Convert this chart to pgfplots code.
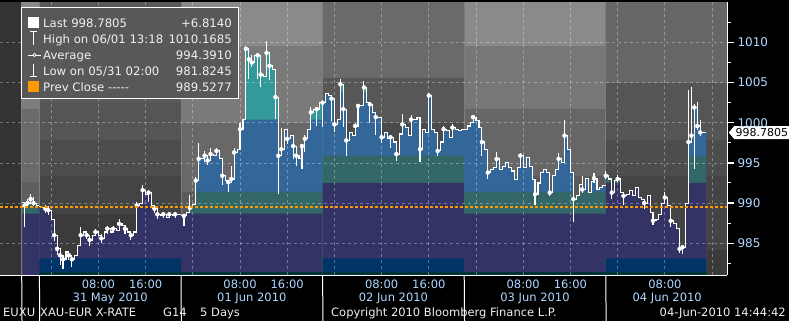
\documentclass[border=0pt]{standalone}
\usepackage{pgfplots}
\pgfplotsset{compat=1.18}
\usepackage{pgfplotstable}
\usepackage{fontspec}
\setmainfont{DejaVu Sans}
\usetikzlibrary{shapes.symbols}

\definecolor{navyb}{RGB}{0,51,102}
\definecolor{purp}{RGB}{51,51,102}
\definecolor{dkteal}{RGB}{51,102,102}
\definecolor{blueb}{RGB}{51,102,153}
\definecolor{tealb}{RGB}{51,153,153}
\definecolor{stripb}{RGB}{0,51,51}
\definecolor{orangeP}{RGB}{255,153,0}
\definecolor{tickblue}{RGB}{175,215,255}
\definecolor{legw}{RGB}{240,240,240}
\definecolor{legbg}{RGB}{88,88,88}
\definecolor{sepcol}{RGB}{125,125,125}

\newcommand{\bg}[4]{\addplot[fill={rgb,255:red,#4;green,#4;blue,#4}, draw=none, forget plot] coordinates {(#1,#3) (#2,#3) (#2,981) (#1,981)} -- cycle;}
\newcommand{\band}[3]{\addplot[const plot, fill=#3, draw=none, forget plot] table[x=h, y expr={min(\thisrow{p},#2)}] {#1} \closedcycle;}
\newcommand{\fs}[1]{\fontsize{#1}{#1}\selectfont}
\newcommand{\hl}[2]{\node[anchor=base, inner sep=0, text=tickblue, font=\fs{11.5}, yshift=-13pt] at (axis cs:#1,981) {#2};}
\newcommand{\dl}[2]{\node[anchor=base, inner sep=0, text=tickblue, font=\fs{11.5}, yshift=-26pt] at (axis cs:#1,981) {#2};}

\pgfplotstableread{
h p
-4.9 990.1
-4.5 989.7
-4.0 990.0
-3.5 990.5
-3.0 990.0
-2.5 989.7
-2.0 989.7
}\dayA
\pgfplotstableread{
h p
-2.0 989.6
-1.5 989.4
-1.0 989.3
-0.5 989.1
0.0 988.0
0.5 986.0
1.0 984.3
1.5 983.5
2.0 983.0
2.5 983.9
3.0 983.5
3.5 983.0
4.0 983.5
4.5 984.7
5.0 986.0
5.5 986.4
6.0 986.0
6.5 985.4
7.0 986.0
7.5 986.4
8.0 986.0
8.5 985.6
9.0 986.4
9.5 986.8
10.0 986.4
10.5 986.8
11.0 986.6
11.5 987.4
12.0 987.2
12.5 986.8
13.0 986.4
13.5 986.0
14.0 986.4
14.5 989.7
15.0 990.0
15.5 991.6
16.0 991.1
16.5 991.3
17.0 989.7
17.5 989.3
18.0 988.6
18.5 988.4
19.0 988.6
19.5 988.2
20.0 988.6
20.5 988.4
21.0 988.6
21.5 988.6
22.0 988.6
}\dayB
\pgfplotstableread{
h p
22.0 988.4
22.5 988.4
23.0 988.8
23.5 989.4
24.0 989.8
24.5 992.8
25.0 995.5
25.5 995.5
26.0 995.9
26.5 995.3
27.0 996.1
27.5 995.9
28.0 996.5
28.5 995.5
29.0 993.4
29.5 992.8
30.0 992.6
30.5 993.0
31.0 996.3
31.5 996.7
32.0 999.2
32.5 1000.4
33.0 1009.2
33.5 1007.9
34.0 1007.5
34.5 1008.4
35.0 1008.4
35.5 1006.0
36.0 1005.8
36.5 1008.7
37.0 1007.1
37.5 1006.6
38.0 1003.2
38.5 995.9
39.0 996.7
39.5 999.2
40.0 998.0
40.5 998.4
41.0 997.1
41.5 995.9
42.0 995.5
42.5 997.1
43.0 998.0
43.5 999.2
44.0 1001.3
44.5 1001.7
45.0 1001.7
45.5 1002.5
46.0 1002.5
}\dayC
\pgfplotstableread{
h p
46.0 1002.5
46.5 1003.6
47.0 1003.4
47.5 1003.0
48.0 999.8
48.5 1000.4
49.0 1004.8
49.5 1001.7
50.0 997.8
50.5 998.8
51.0 998.4
51.5 999.6
52.0 1002.1
52.5 1002.1
53.0 1004.4
53.5 1002.5
54.0 1002.3
54.5 1001.3
55.0 1000.7
55.5 1000.7
56.0 998.2
56.5 998.8
57.0 998.0
57.5 998.2
58.0 997.6
58.5 996.1
59.0 998.6
59.5 999.8
60.0 999.4
60.5 998.4
61.0 1000.4
61.5 1000.4
62.0 1000.7
62.5 996.7
63.0 999.2
63.5 998.8
64.0 1003.4
64.5 999.2
65.0 998.8
65.5 996.5
66.0 997.6
66.5 999.2
67.0 999.0
67.5 998.2
68.0 999.4
68.5 999.2
69.0 999.0
69.5 999.2
70.0 999.2
}\dayD
\pgfplotstableread{
h p
70.0 999.2
70.5 999.6
71.0 1000.0
71.5 1000.7
72.0 1000.3
72.5 999.4
73.0 997.6
73.5 996.7
74.0 993.8
74.5 994.2
75.0 994.4
75.5 995.5
76.0 994.2
76.5 994.6
77.0 995.0
77.5 994.4
78.0 994.0
78.5 992.9
79.0 994.4
79.5 995.9
80.0 994.4
80.5 995.7
81.0 994.6
81.5 992.9
82.0 991.1
82.5 992.5
83.0 993.8
83.5 994.2
84.0 993.8
84.5 991.3
85.0 993.4
85.5 994.2
86.0 995.5
86.5 995.0
87.0 998.4
87.5 996.7
88.0 993.8
88.5 990.5
89.0 990.9
89.5 992.3
90.0 991.7
90.5 993.1
91.0 991.3
91.5 992.7
92.0 993.1
92.5 991.7
93.0 991.9
93.5 992.2
94.0 992.2
}\dayE
\pgfplotstableread{
h p
94.0 993.4
94.5 993.0
95.0 991.3
95.5 992.8
96.0 993.0
96.5 991.3
97.0 990.9
97.5 991.1
98.0 991.6
98.5 990.9
99.0 991.9
99.5 990.7
100.0 990.5
100.5 990.0
101.0 990.9
101.5 988.8
102.0 987.8
102.5 988.0
103.0 988.6
103.5 990.0
104.0 990.7
104.5 989.7
105.0 987.8
105.5 987.4
106.0 986.8
106.5 984.3
107.0 984.5
107.5 990.0
108.0 997.6
108.5 998.4
109.0 1001.9
109.5 999.6
110.0 998.8
110.5 998.8
111.0 998.8
}\dayF
\pgfplotstableread{
h y ep em
-4.5 989.7 0.3 2.7
-4.0 990.0 0.5 0.5
-3.5 990.5 0.6 0.3
-3.0 990.0 0.8 0.4
-1.0 989.3 0.4 0.5
-0.5 989.1 0.5 0.6
0.5 986.0 0.6 0.7
1.0 984.3 0.5 0.8
1.5 983.5 0.3 1.2
2.0 983.0 0.3 1.18
3.0 983.5 0.5 0.6
3.5 983.0 0.4 1.0
5.0 986.0 1.0 0.5
6.0 986.0 0.5 0.5
6.5 985.4 0.4 0.7
7.5 986.4 0.4 0.5
8.5 985.6 0.5 0.6
9.5 986.8 0.4 0.6
10.5 986.8 0.4 0.5
11.5 987.4 0.6 0.5
12.5 986.8 0.4 0.6
13.5 986.0 0.3 0.6
14.5 989.7 0.4 0.5
15.5 991.6 0.6 0.5
16.5 991.3 0.3 1.2
17.5 989.3 0.4 0.5
18.0 988.6 0.3 0.6
19.0 988.6 0.3 0.5
20.0 988.6 0.3 0.5
21.0 988.6 0.3 0.5
22.5 988.4 0.3 1.2
23.5 989.4 1.6 0.3
24.5 992.8 0.4 1.8
25.0 995.5 2.0 0.4
26.0 995.9 0.6 0.8
26.5 995.3 0.5 0.6
27.0 996.1 0.8 0.5
28.0 996.5 0.3 0.6
29.0 993.4 0.3 1.2
30.0 992.6 0.3 1.2
30.5 993.0 1.6 0.3
31.0 996.3 0.6 0.4
32.0 999.2 0.8 0.6
33.0 1009.2 0.4 0.0
33.5 1007.9 0.3 2.4
34.0 1007.5 1.0 0.6
35.0 1008.4 0.3 3.0
35.5 1006.0 0.3 1.6
36.5 1008.7 1.47 0.4
37.0 1007.1 0.4 1.8
38.0 1003.2 0.4 2.7
38.5 995.9 0.3 4.8
39.0 996.7 2.6 0.4
40.0 998.0 0.9 0.6
41.0 997.1 0.3 1.6
41.5 995.9 0.4 1.3
42.5 997.1 0.3 2.9
43.0 998.0 0.5 1.6
44.0 1001.3 0.7 0.5
45.0 1001.7 0.3 2.1
46.0 1002.5 0.3 3.0
47.5 1003.0 0.3 2.8
48.0 999.8 0.4 1.0
49.0 1004.8 0.7 0.4
49.5 1001.7 0.3 2.2
50.0 997.8 0.4 1.9
51.5 999.6 0.4 1.3
52.0 1002.1 0.3 2.4
53.0 1004.4 0.8 0.4
54.0 1002.3 0.3 2.3
55.0 1000.7 0.3 2.2
56.0 998.2 0.4 0.7
57.5 998.2 0.3 1.3
58.5 996.1 0.5 0.9
59.5 999.8 1.3 0.4
61.0 1000.4 0.6 0.4
62.5 996.7 0.3 1.6
64.0 1003.4 0.3 4.0
65.5 996.5 0.5 0.6
66.5 999.2 0.4 0.5
68.0 999.4 0.4 0.6
71.5 1000.7 0.3 0.7
73.0 997.6 0.4 1.7
74.0 993.8 0.4 0.8
75.5 995.5 0.8 0.4
79.5 995.9 0.3 1.0
82.0 991.1 1.9 1.4
84.5 991.3 0.4 0.4
86.0 995.5 0.7 0.6
87.0 998.4 2.0 0.5
88.5 990.5 0.4 2.9
90.0 991.7 1.7 0.4
92.0 993.1 0.7 0.6
94.0 993.4 0.6 0.4
95.0 991.3 0.3 0.8
96.0 993.0 0.5 0.4
97.0 990.9 0.3 1.2
100.5 990.0 0.4 0.8
102.0 987.8 0.3 0.5
104.0 990.7 0.7 0.5
105.0 987.8 0.4 0.8
106.5 984.3 0.3 0.5
107.0 984.5 0.3 0.9
108.0 997.6 6.5 0.3
108.5 998.4 6.0 0.5
109.0 1001.9 0.4 7.7
109.5 999.6 3.0 0.5
110.0 998.8 1.6 0.4
}\wicks

\begin{document}
\begin{tikzpicture}[x=1pt,y=1pt]
\fill[black] (0,0) rectangle (789,321);
\begin{axis}[
  at={(0,57)}, anchor=south west,
  scale only axis, width=727pt, height=273pt,
  xmin=-8.68, xmax=114.54, ymin=981, ymax=1015,
  clip mode=individual,
  axis on top,
  axis x line*=bottom, axis y line*=right,
  axis line style={white, line width=1pt},
  xtick=\empty,
  minor xtick={-4,0,...,112},
  ytick={985,990,...,1010},
  minor ytick={982.5,987.5,...,1012.5},
  tick align=outside,
  major tick length=7pt, minor tick length=3.5pt,
  major tick style={white, line width=1.4pt},
  minor tick style={white, line width=1pt},
  yticklabel style={font=\fs{12}, text=tickblue, /pgf/number format/1000 sep={}, /pgf/number format/assume math mode=true},
]
% background bands
\bg{-8.68}{-5}{1015}{51}
\bg{-5}{-2}{1015}{138}
\bg{-5}{-2}{1013.7}{125}
\bg{-5}{-2}{1001.7}{106}
\bg{-5}{-2}{992.6}{94}
\bg{-2}{22}{1015}{90}
\bg{-2}{22}{1002.5}{85}
\bg{-2}{22}{997.8}{76}
\bg{-2}{22}{993.4}{68}
\bg{-2}{22}{988.7}{59}
\bg{22}{46}{1015}{138}
\bg{22}{46}{1009.6}{122}
\bg{22}{46}{1000.0}{104}
\bg{22}{46}{991.4}{90}
\bg{46}{70}{1015}{106}
\bg{46}{70}{1005.6}{87}
\bg{46}{70}{1000.0}{74}
\bg{70}{94}{1015}{138}
\bg{70}{94}{1009.6}{119}
\bg{70}{94}{1001.7}{102}
\bg{70}{94}{993.4}{90}
\bg{94}{114.54}{1015}{102}
\bg{94}{114.54}{1005.0}{85}
\bg{94}{114.54}{997.8}{77}
\bg{94}{114.54}{993.4}{68}
\bg{94}{114.54}{984.2}{58}
% session separators
\pgfplotsinvokeforeach{-5,-2,22,46,70,94}{
  \addplot[sepcol, line width=1pt, forget plot] coordinates {(#1,981) (#1,1015)};
}
% filled bands under the price
\band{\dayA}{1015}{dkteal}
\band{\dayA}{988.7}{purp}
\band{\dayB}{1015}{purp}
\band{\dayB}{983.1}{navyb}
\band{\dayB}{981.4}{stripb}
\band{\dayC}{1015}{tealb}
\band{\dayC}{1000.4}{blueb}
\band{\dayC}{991.4}{dkteal}
\band{\dayC}{988.7}{purp}
\band{\dayC}{981.4}{stripb}
\band{\dayD}{1015}{tealb}
\band{\dayD}{1003.8}{blueb}
\band{\dayD}{995.9}{dkteal}
\band{\dayD}{992.5}{purp}
\band{\dayD}{983.1}{navyb}
\band{\dayD}{981.4}{stripb}
\band{\dayE}{1015}{blueb}
\band{\dayE}{991.4}{dkteal}
\band{\dayE}{988.7}{purp}
\band{\dayE}{981.4}{stripb}
\band{\dayF}{1015}{blueb}
\band{\dayF}{995.8}{dkteal}
\band{\dayF}{992.5}{purp}
\band{\dayF}{983.1}{navyb}
\band{\dayF}{981.4}{stripb}
% grid
\pgfplotsinvokeforeach{0,8,...,112}{
  \addplot[white, opacity=0.32, line width=0.8pt, dash pattern=on 3pt off 3pt, forget plot] coordinates {(#1,981) (#1,1015)};
}
\pgfplotsinvokeforeach{985,990,...,1010}{
  \addplot[white, opacity=0.32, line width=0.8pt, dash pattern=on 3pt off 3pt, forget plot] coordinates {(-8.68,#1) (114.54,#1)};
}
% price
\addplot[white, only marks, mark=none, forget plot, error bars/.cd, y dir=both, y explicit, error mark=none, error bar style={white, line width=1.1pt}] table[x=h, y=y, y error plus=ep, y error minus=em] {\wicks};
\addplot[const plot, white, line width=1.1pt] table[x=h, y=p] {\dayA};
\addplot[const plot, white, line width=1.1pt] table[x=h, y=p] {\dayB};
\addplot[const plot, white, line width=1.1pt] table[x=h, y=p] {\dayC};
\addplot[const plot, white, line width=1.1pt] table[x=h, y=p] {\dayD};
\addplot[const plot, white, line width=1.1pt] table[x=h, y=p] {\dayE};
\addplot[const plot, white, line width=1.1pt] table[x=h, y=p] {\dayF};
% previous close
\addplot[orangeP, line width=2.2pt, dash pattern=on 3pt off 2pt] coordinates {(-8.68,989.5277) (114.54,989.5277)};
% session separators below axis
\pgfplotsinvokeforeach{-5,-2,22,46,70,94}{
  \draw[white, line width=1pt] (axis cs:#1,981) -- ++(0,-30pt);
}
% time labels
\hl{8}{08:00}\hl{16}{16:00}\hl{32}{08:00}\hl{40}{16:00}\hl{56}{08:00}\hl{64}{16:00}\hl{80}{08:00}\hl{88}{16:00}\hl{104}{08:00}
\dl{10}{31 May 2010}\dl{34}{01 Jun 2010}\dl{58}{02 Jun 2010}\dl{82}{03 Jun 2010}\dl{104.4}{04 Jun 2010}
% last price tag
\node[signal, signal to=west, signal pointer angle=100, fill=white, text=black, font=\fs{11}, inner xsep=1.5pt, inner ysep=1pt, minimum height=13pt, anchor=west, xshift=1.5pt] at (axis cs:114.54,998.7805) {998.7805};
\end{axis}
% legend
\fill[legbg] (21.7,222) rectangle (238,313);
\draw[white, line width=1pt] (21.7,222) rectangle (238,313);
\fill[white] (28,293) rectangle (39,304);
\draw[white, line width=1pt] (33.5,289)--(33.5,276) (30,289)--(37,289);
\draw[white, line width=0.8pt] (28,266)--(41,266);
\draw[white, fill=legbg, line width=0.7pt] (34.5,266) circle (1.6);
\draw[white, line width=1pt] (33.5,257)--(33.5,244) (30,244)--(37,244);
\fill[orangeP] (28,229) rectangle (39,240);
\begin{scope}[every node/.style={inner sep=0, text=legw, font=\fs{11.7}}]
\node[anchor=base west] at (43,293) {Last 998.7805};
\node[anchor=base east] at (232,293) {+6.8140};
\node[anchor=base west] at (43,277) {High on 06/01 13:18};
\node[anchor=base east] at (232,277) {1010.1685};
\node[anchor=base west] at (43,261) {Average};
\node[anchor=base east] at (232,261) {994.3910};
\node[anchor=base west] at (43,245) {Low on 05/31 02:00};
\node[anchor=base east] at (232,245) {981.8245};
\node[anchor=base west] at (43,229) {Prev Close -{}-{}-{}-{}-};
\node[anchor=base east] at (232,229) {989.5277};
\end{scope}
% footer
\begin{scope}[every node/.style={inner sep=0, text=legw, font=\fs{11.5}, anchor=base west}]
\node at (3,4.5) {EUXU};
\node at (40,4.5) {XAU-EUR X-RATE};
\node at (163,4.5) {G14};
\node at (200,4.5) {5 Days};
\node at (331,4.5) {Copyright 2010 Bloomberg Finance L.P.};
\node[anchor=base east] at (786,4.5) {04-Jun-2010 14:44:42};
\end{scope}
\pgfresetboundingbox
\useasboundingbox (0,0) rectangle (789,321);
\end{tikzpicture}
\end{document}
